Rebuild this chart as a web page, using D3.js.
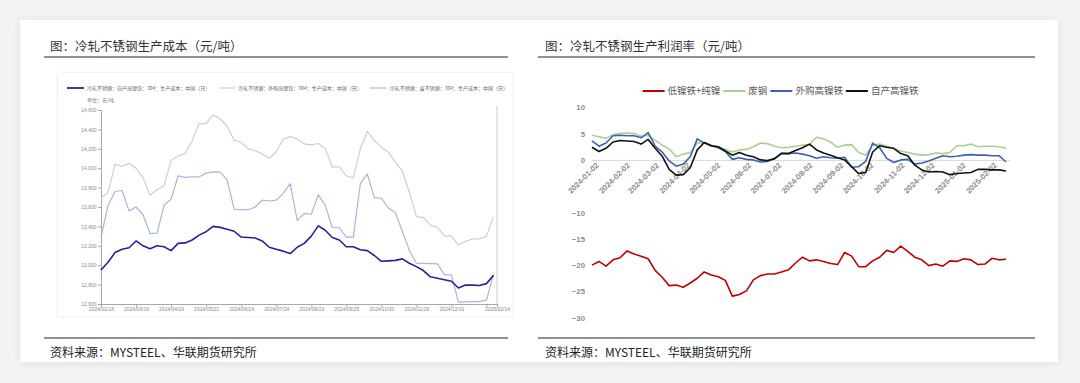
<!DOCTYPE html>
<html>
<head>
<meta charset="utf-8">
<script src="https://cdn.jsdelivr.net/npm/d3@7"></script>
<style>
  html, body { margin: 0; padding: 0; background: #f3f3f3; }
  svg { display: block; font-family: "Noto Sans CJK SC", "Noto Sans", sans-serif; }
</style>
</head>
<body>
<svg id="chart" width="1080" height="383"></svg>
<script>
// ---- left chart: cost (yuan/t), one sample every 0.2 of a label step ----
const costTickLabels = ['2024/02/18', '2024/03/19', '2024/04/19', '2024/05/22', '2024/06/24', '2024/07/24',
  '2024/08/23', '2024/09/25', '2024/10/30', '2024/11/29', '2024/12/31', '2025/02/14'];
const costSeriesNames = ['冷轧不锈钢：自产高镍铁：304：生产成本：中国（日）',
  '冷轧不锈钢：外购高镍铁：304：生产成本：中国（日）',
  '冷轧不锈钢：废不锈钢：304：生产成本：中国（日）'];
const costSelf = [12950, 13030, 13130, 13165, 13180, 13250, 13200, 13170, 13200, 13190,
  13150, 13225, 13230, 13260, 13310, 13345, 13400, 13390, 13370, 13350,
  13290, 13285, 13280, 13250, 13185, 13165, 13145, 13120, 13185, 13225,
  13300, 13405, 13360, 13285, 13260, 13190, 13190, 13160, 13150, 13100,
  13040, 13045, 13050, 13065, 13020, 12985, 12945, 12880, 12865, 12850,
  12835, 12765, 12795, 12795, 12790, 12810, 12895];
const costBuy = [13690, 13750, 14040, 14020, 14050, 14000, 13900, 13720, 13780, 13820,
  14080, 14125, 14150, 14280, 14460, 14460, 14550, 14510, 14430, 14290,
  14265, 14200, 14180, 14150, 14100, 14170, 14300, 14325, 14300, 14250,
  14240, 14255, 14200, 14014, 14014, 13920, 13900, 14200, 14380, 14285,
  14215, 14165, 14060, 13970, 13750, 13500, 13490, 13410, 13390, 13300,
  13300, 13210, 13245, 13270, 13272, 13300, 13500];
const costScrap = [13290, 13615, 13760, 13770, 13560, 13600, 13520, 13325, 13330, 13620,
  13680, 13920, 13905, 13910, 13910, 13950, 13962, 13960, 13880, 13575,
  13572, 13572, 13600, 13670, 13662, 13670, 13740, 13840, 13460, 13535,
  13525, 13725, 13617, 13386, 13386, 13290, 13290, 13840, 13940, 13697,
  13690, 13590, 13540, 13350, 13150, 13020, 13018, 13016, 13014, 12900,
  12900, 12620, 12622, 12624, 12624, 12640, 12905];

// ---- right chart: profit rate (%), weekly ----
const profitDates = ['2024-01-02', '2024-01-09', '2024-01-16', '2024-01-23', '2024-01-30', '2024-02-06',
  '2024-02-13', '2024-02-20', '2024-02-27', '2024-03-05', '2024-03-12', '2024-03-19', '2024-03-26',
  '2024-04-02', '2024-04-09', '2024-04-16', '2024-04-23', '2024-04-30', '2024-05-07', '2024-05-14',
  '2024-05-21', '2024-05-28', '2024-06-04', '2024-06-11', '2024-06-18', '2024-06-25', '2024-07-02',
  '2024-07-09', '2024-07-16', '2024-07-23', '2024-07-30', '2024-08-06', '2024-08-13', '2024-08-20',
  '2024-08-27', '2024-09-03', '2024-09-10', '2024-09-17', '2024-09-24', '2024-10-01', '2024-10-08',
  '2024-10-15', '2024-10-22', '2024-10-29', '2024-11-05', '2024-11-12', '2024-11-19', '2024-11-26',
  '2024-12-03', '2024-12-10', '2024-12-17', '2024-12-24', '2024-12-31', '2025-01-07', '2025-01-14',
  '2025-01-21', '2025-01-28', '2025-02-04', '2025-02-11', '2025-02-18'];
const profitTickLabels = ['2024-01-02', '2024-02-02', '2024-03-02', '2024-04-02', '2024-05-02', '2024-06-02',
  '2024-07-02', '2024-08-02', '2024-09-02', '2024-10-02', '2024-11-02', '2024-12-02', '2025-01-02', '2025-02-02'];
const profitNames = ['低镍铁+纯镍', '废钢', '外购高镍铁', '自产高镍铁'];
const profitLow = [-20.0, -19.3, -20.2, -19.0, -18.6, -17.3, -17.9, -18.3, -18.8, -21.0,
  -22.3, -23.9, -23.8, -24.2, -23.4, -22.5, -21.3, -21.9, -22.2, -22.9,
  -25.9, -25.6, -24.9, -22.8, -22.0, -21.7, -21.7, -21.3, -20.9, -19.6,
  -18.5, -19.2, -19.0, -19.3, -19.7, -19.9, -17.6, -18.3, -20.3, -20.3,
  -19.2, -18.5, -17.2, -17.6, -16.4, -17.4, -18.5, -19.0, -20.1, -19.8,
  -20.2, -19.2, -19.3, -18.8, -19.0, -19.9, -19.8, -18.7, -19.0, -18.9];
const profitScrap = [4.7, 4.4, 4.1, 4.8, 5.0, 5.1, 5.0, 4.5, 4.7, 3.7,
  2.8, 2.1, 0.6, 1.1, 1.4, 3.2, 3.3, 2.8, 2.4, 2.0,
  1.5, 1.9, 2.0, 2.5, 3.2, 3.1, 2.6, 2.3, 2.4, 2.6,
  2.8, 2.9, 4.3, 4.0, 3.4, 2.4, 2.8, 2.9, 1.4, 0.9,
  2.8, 3.0, 2.6, 2.1, 1.7, 1.4, 1.1, 0.9, 1.0, 1.3,
  1.2, 1.4, 2.7, 2.7, 3.0, 2.5, 2.6, 2.6, 2.5, 2.2];
const profitBuy = [3.6, 2.6, 3.2, 4.6, 4.7, 4.6, 4.6, 4.2, 5.2, 2.6,
  1.5, -0.2, -1.2, -0.8, 0.6, 4.0, 3.2, 2.7, 2.3, 1.6,
  0.1, 0.4, 0.1, 0.0, -0.4, -0.3, 0.3, 1.3, 1.2, 1.3,
  1.1, 0.8, 0.3, 0.6, 0.4, 0.3, 0.5, -1.4, -1.3, -0.3,
  3.2, 2.3, 0.3, -0.5, 0.0, 0.1, -0.8, -0.6, -0.2, 0.3,
  0.8, 0.6, 0.7, 0.9, 1.0, 0.9, 0.9, 0.8, 0.8, -0.4];
const profitSelf = [2.4, 1.6, 2.2, 3.4, 3.7, 3.6, 3.5, 3.0, 3.9, 2.2,
  0.7, -1.8, -2.9, -2.8, -1.5, 1.9, 3.3, 2.7, 2.5, 1.7,
  0.9, 1.4, 0.9, 0.6, 0.0, -0.1, 0.2, 1.2, 1.2, 1.8,
  2.3, 3.0, 1.9, 1.3, 0.9, 0.4, 0.0, -1.3, -2.6, -2.4,
  1.5, 2.7, 2.4, 2.2, 1.2, 0.8, -1.0, -1.9, -2.3, -2.2,
  -2.3, -2.8, -2.6, -2.5, -2.4, -1.8, -1.8, -1.9, -1.9, -2.1];

const svg = d3.select('#chart');
const defs = svg.append('defs');
defs.append('filter').attr('id', 'card-shadow')
  .attr('x', '-5%').attr('y', '-5%').attr('width', '110%').attr('height', '115%')
  .append('feDropShadow').attr('dx', 0).attr('dy', 1).attr('stdDeviation', 4)
  .attr('flood-color', '#000').attr('flood-opacity', 0.08);
defs.append('filter').attr('id', 'panel-shadow')
  .attr('x', '-5%').attr('y', '-5%').attr('width', '110%').attr('height', '110%')
  .append('feDropShadow').attr('dx', 0).attr('dy', 0).attr('stdDeviation', 1.5)
  .attr('flood-color', '#000').attr('flood-opacity', 0.12);

svg.append('rect').attr('x', 20).attr('y', 20).attr('width', 1038).attr('height', 342)
  .attr('fill', '#fff').attr('filter', 'url(#card-shadow)');

// titles, rules and sources
[[50, 44, 508, '图：冷轧不锈钢生产成本（元/吨）'], [545, 538, 1035, '图：冷轧不锈钢生产利润率（元/吨）']]
  .forEach(([tx, x0, x1, title]) => {
    svg.append('text').attr('x', tx).attr('y', 51).attr('font-size', 12.5).attr('fill', '#333').text(title);
    svg.append('line').attr('x1', x0).attr('x2', x1).attr('y1', 57).attr('y2', 57)
      .attr('stroke', '#222').attr('stroke-width', 1.2);
    svg.append('line').attr('x1', x0).attr('x2', x1).attr('y1', 338).attr('y2', 338)
      .attr('stroke', '#222').attr('stroke-width', 1.2);
    svg.append('text').attr('x', tx).attr('y', 357).attr('font-size', 12).attr('fill', '#222')
      .text('资料来源：MYSTEEL、华联期货研究所');
  });

// ---------------- left chart ----------------
svg.append('rect').attr('x', 58).attr('y', 73).attr('width', 454).attr('height', 243)
  .attr('fill', '#fff').attr('filter', 'url(#panel-shadow)');

const xL = d3.scaleLinear().domain([0, 56.5]).range([101, 497]);
const yL = d3.scaleLinear().domain([12600, 14600]).range([304, 110]);
const costColors = ['#2b1f9c', '#cfcfcf', '#a3b8e0'];

const lgL = svg.append('g').attr('font-size', 5).attr('fill', '#666');
let lx = 67;
costSeriesNames.forEach((name, i) => {
  lgL.append('line').attr('x1', lx).attr('x2', lx + 17).attr('y1', 88).attr('y2', 88)
    .attr('stroke', costColors[i]).attr('stroke-width', i === 0 ? 1.8 : 1.2);
  const t = lgL.append('text').attr('x', lx + 20).attr('y', 89.8).text(name);
  lx += 20 + t.node().getComputedTextLength() + 8;
});
svg.append('text').attr('x', 87).attr('y', 102).attr('font-size', 5).attr('fill', '#777').text('单位：元/吨');

const costTickIdx = d3.range(0, 60, 5).map(v => v).slice(0, 11).concat([55, 56.5]);
const gyL = svg.append('g').attr('transform', 'translate(101,0)')
  .call(d3.axisLeft(yL).tickValues(d3.range(12600, 14601, 200)).tickSize(3).tickPadding(1.5)
    .tickFormat(d3.format(',')));
const gxL = svg.append('g').attr('transform', 'translate(0,304)')
  .call(d3.axisBottom(xL).tickValues(costTickIdx).tickSize(3).tickPadding(0.5)
    .tickFormat(d => d === 55 ? '' : (d === 56.5 ? costTickLabels[11] : costTickLabels[d / 5])));
[gyL, gxL].forEach(g => {
  g.selectAll('text').attr('font-size', 5).attr('fill', '#8a8a8a').attr('font-family', 'inherit');
  g.selectAll('line, path').attr('stroke', '#a8a8a8');
});
svg.append('line').attr('x1', xL(56.5)).attr('x2', xL(56.5)).attr('y1', 106).attr('y2', 304)
  .attr('stroke', '#cccccc').attr('stroke-width', 1);

const lineL = d3.line().x((d, i) => xL(i)).y(d => yL(d));
[[costBuy, 1], [costScrap, 2], [costSelf, 0]].forEach(([vals, ci]) => {
  svg.append('path').datum(vals).attr('fill', 'none').attr('stroke', costColors[ci])
    .attr('stroke-width', ci === 0 ? 1.6 : 1.2).attr('stroke-linejoin', 'round').attr('d', lineL);
});

// ---------------- right chart ----------------
const parse = d3.timeParse('%Y-%m-%d');
const xR = d3.scaleTime().domain([parse('2024-01-02'), parse('2025-02-18')]).range([592, 1006]);
const yR = d3.scaleLinear().domain([-30, 10]).range([317.7, 107.3]);
const profitColors = ['#c00000', '#a9d18e', '#3a63b5', '#111111'];

const gyR = svg.append('g').attr('transform', 'translate(587,0)')
  .call(d3.axisLeft(yR).tickValues([10, 5, 0, -10, -15, -20, -25, -30]).tickSize(0).tickPadding(2));
gyR.select('.domain').remove();
const gxR = svg.append('g').attr('transform', `translate(0,${yR(0)})`)
  .call(d3.axisBottom(xR).tickValues(profitTickLabels.map(parse)).tickSize(0)
    .tickFormat(d3.timeFormat('%Y-%m-%d')));
gxR.select('.domain').attr('stroke', '#d9d9d9').attr('d', `M592,0.5H1010`);
gxR.selectAll('text').attr('text-anchor', 'end').attr('x', 0).attr('y', 0).attr('dy', '0.35em')
  .attr('transform', 'translate(5,4) rotate(-45)');
[gyR, gxR].forEach(g => g.selectAll('text').attr('font-size', 7.8).attr('font-weight', 'bold')
  .attr('fill', '#8c8c8c').attr('font-family', 'inherit'));

const rows = profitDates.map((d, i) => ({
  date: parse(d), vals: [profitLow[i], profitScrap[i], profitBuy[i], profitSelf[i]]
}));
[1, 2, 3, 0].forEach(si => {
  svg.append('path').datum(rows).attr('fill', 'none').attr('stroke', profitColors[si])
    .attr('stroke-width', 1.6).attr('stroke-linejoin', 'round')
    .attr('d', d3.line().x(d => xR(d.date)).y(d => yR(d.vals[si])));
});

const lgR = svg.append('g').attr('font-size', 9.5).attr('fill', '#595959');
let rx = 0;
profitNames.forEach((name, i) => {
  lgR.append('line').attr('x1', rx).attr('x2', rx + 22).attr('y1', 0).attr('y2', 0)
    .attr('stroke', profitColors[i]).attr('stroke-width', 2);
  const t = lgR.append('text').attr('x', rx + 25).attr('y', 3.4).text(name);
  rx += 25 + t.node().getComputedTextLength() + 3;
});
lgR.attr('transform', `translate(${782 - rx / 2},91)`);
</script>
</body>
</html>
